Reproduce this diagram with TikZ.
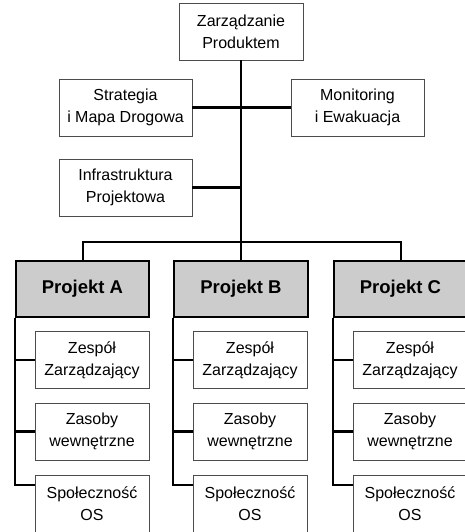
\documentclass[tikz,border=0pt]{standalone}
\usepackage{fontspec}
\setmainfont{Liberation Sans}
\begin{document}
\begin{tikzpicture}[x=1pt,y=-1pt,
  box/.style={draw=black!70,line width=0.9pt,align=center,minimum width=133pt,minimum height=57pt,inner sep=0pt,font=\fontsize{16}{22}\selectfont},
  sub/.style={box,minimum width=114pt},
  head/.style={draw,fill=black!20,line width=1.8pt,minimum width=133pt,minimum height=56pt,inner sep=0pt,font=\bfseries\fontsize{18.5}{22}\selectfont},
  link/.style={line width=2.6pt},
  bar/.style={line width=2pt}]
\useasboundingbox (0,0) rectangle (465,532);

\node[box,minimum width=124pt] (prod) at (241,31.5) {Zarządzanie\\Produktem};
\node[box] (strat) at (125.5,107.5) {Strategia\\i Mapa Drogowa};
\node[box] (monit) at (357.5,107.5) {Monitoring\\i Ewakuacja};
\node[box] (infra) at (125.5,187.5) {Infrastruktura\\Projektowa};

\node[head] (pA) at (82.5,289) {Projekt A};
\node[head,minimum width=134pt] (pB) at (241,289) {Projekt B};
\node[head] (pC) at (400.5,289) {Projekt C};
\coordinate (hub) at (241,242);

\draw[link] (prod.south) -- (pB.north);
\draw[link] (strat.east) -- (monit.west);
\draw[link] (infra.east) -- (infra.east -| prod.south);
\draw[bar] (pA.north) |- (hub) -| (pC.north);

% zespoly projektow
\foreach \p/\x in {A/92,B/250,C/410}{
  \node[sub] (z\p) at (\x,360) {Zespół\\Zarządzający};
  \node[sub] (w\p) at (\x,431.5) {Zasoby\\wewnętrzne};
  \node[sub] (s\p) at (\x,503.5) {Społeczność\\OS};
  \draw[link] (p\p.south west) |- ([yshift=18.5pt]s\p.west);
  \draw[link] (p\p.south west |- z\p.west) -- (z\p.west);
  \draw[link] (p\p.south west |- w\p.west) -- (w\p.west);
}
\end{tikzpicture}
\end{document}
